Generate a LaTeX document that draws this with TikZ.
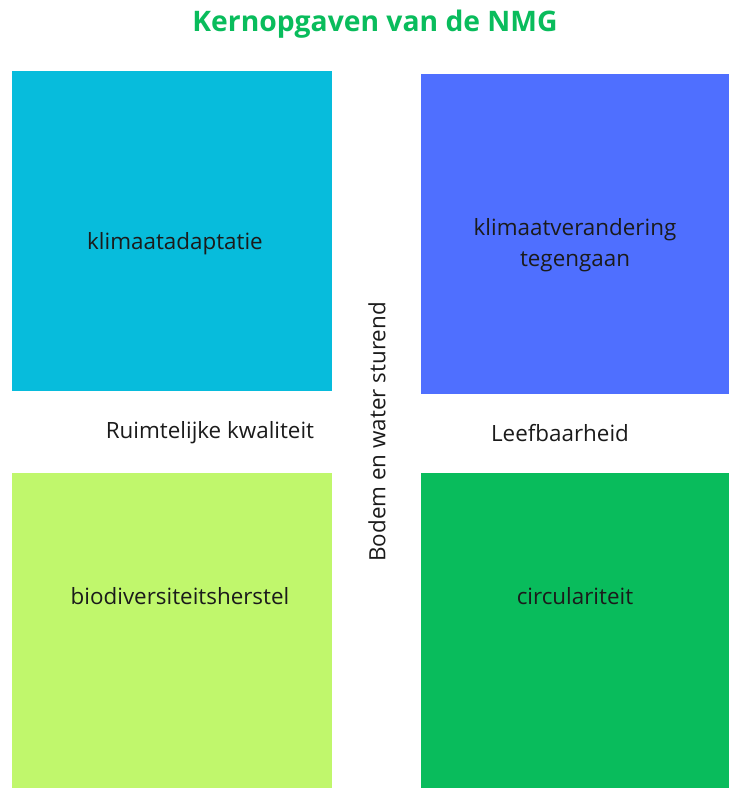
\documentclass[tikz,border=0pt]{standalone}
\usepackage{fontspec}
\setmainfont{Open Sans}
\usepackage{tikz}
\usetikzlibrary{positioning}
\definecolor{nmgCyan}{HTML}{07BCDC}
\definecolor{nmgBlue}{HTML}{4F6FFF}
\definecolor{nmgLime}{HTML}{C0F76C}
\definecolor{nmgGreen}{HTML}{09BC5C}
\definecolor{nmgText}{HTML}{1B1B1B}

\begin{document}
\begin{tikzpicture}[x=0.75pt, y=-0.75pt, line cap=round, line join=round,
    lbl/.style={text=nmgText, font=\fontsize{16.8}{23.2}\selectfont, align=center, inner sep=0pt}]
    \useasboundingbox (0,0) rectangle (729,788);

    % ── title ─────────────────────────────────────────────────────────────
    \node[text=nmgGreen, font=\fontsize{21.2}{25}\selectfont\bfseries] (title) at (375,24)
      {Kernopgaven van de NMG};

    % ── the four quadrants ────────────────────────────────────────────────
    \fill[nmgCyan]  (12,71)  rectangle (332,391);
    \fill[nmgBlue]  (421,74) rectangle (729,394);
    \fill[nmgLime]  (12,473) rectangle (332,788);
    \fill[nmgGreen] (421,473) rectangle (729,788);

    \node[lbl] (adapt) at (175,244) {klimaatadaptatie};
    \node[lbl] (mitig) at (575,245) {klimaatverandering\\tegengaan};
    \node[lbl] (bio)   at (180,596) {biodiversiteitsherstel};
    \node[lbl] (circ)  at (575,596) {circulariteit};

    % ── labels in the gaps ────────────────────────────────────────────────
    \node[lbl] (ruimte) at (210,433) {Ruimtelijke kwaliteit};
    \node[lbl] (leef)   at (560,433) {Leefbaarheid};
    \node[lbl, rotate=90] (bodem) at (377,432) {Bodem en water sturend};
  \end{tikzpicture}
\end{document}
